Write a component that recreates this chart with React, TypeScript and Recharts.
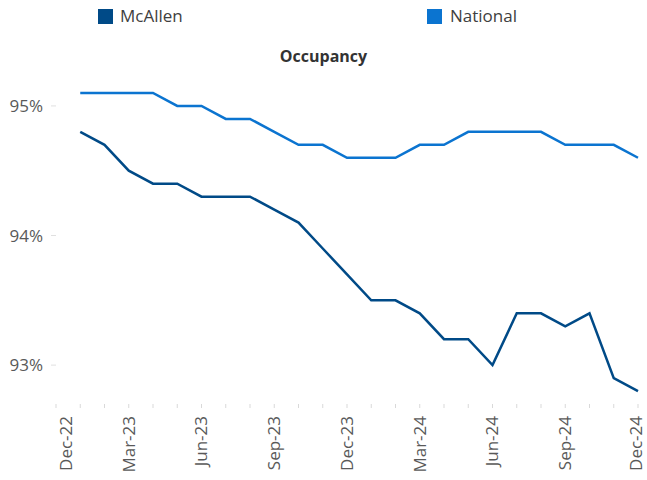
import React from "react";
import { LineChart, Line, XAxis, YAxis } from "recharts";

const tickLabels = ["Dec-22","Jan-23","Feb-23","Mar-23","Apr-23","May-23","Jun-23","Jul-23","Aug-23","Sep-23","Oct-23","Nov-23","Dec-23","Jan-24","Feb-24","Mar-24","Apr-24","May-24","Jun-24","Jul-24","Aug-24","Sep-24","Oct-24","Nov-24","Dec-24"];
const months = [1,2,3,4,5,6,7,8,9,10,11,12,13,14,15,16,17,18,19,20,21,22,23,24];
const mcallen = [94.8,94.7,94.5,94.4,94.4,94.3,94.3,94.3,94.2,94.1,93.9,93.7,93.5,93.5,93.4,93.2,93.2,93.0,93.4,93.4,93.3,93.4,92.9,92.8];
const national = [95.1,95.1,95.1,95.1,95.0,95.0,94.9,94.9,94.8,94.7,94.7,94.6,94.6,94.6,94.7,94.7,94.8,94.8,94.8,94.8,94.7,94.7,94.7,94.6];
const yTicks = [93, 94, 95];
const xTicks = [0,1,2,3,4,5,6,7,8,9,10,11,12,13,14,15,16,17,18,19,20,21,22,23,24];

const COLOR_MC = "#004A87";
const COLOR_NAT = "#0B74D0";
const FONT = "'Open Sans', 'Noto Sans', sans-serif";

const data = months.map((m, i) => ({ m, mcallen: mcallen[i], national: national[i] }));

const XTick = (props: any) => {
  const { x, y, payload } = props;
  const v = payload.value as number;
  if (v % 3 !== 0) return null;
  const dx = v === 0 ? 10 : v === 24 ? -2 : 0;
  return (
    <g transform={`translate(${x + dx},${y})`}>
      <text transform="rotate(-90)" x={-6} y={0} dy="0.35em" textAnchor="end" fill="#595959" fontSize={17} fontFamily={FONT}>
        {tickLabels[v]}
      </text>
    </g>
  );
};

export default function App() {
  return (
    <div style={{ position: "absolute", left: 0, top: 0, width: 647, height: 480, fontFamily: FONT }}>
      <LineChart width={647} height={480} data={data} margin={{ top: 80, right: 9, bottom: 6, left: 0 }}>
        <XAxis
          type="number"
          dataKey="m"
          domain={[0, 24]}
          ticks={xTicks}
          interval={0}
          axisLine={false}
          tickLine={{ stroke: "#d9d9d9" }}
          tickSize={4}
          height={70}
          tick={<XTick />}
        />
        <YAxis
          type="number"
          domain={[92.7, 95.2]}
          ticks={yTicks}
          width={56}
          axisLine={false}
          tickLine={{ stroke: "#e0e0e0" }}
          tickSize={5}
          tickMargin={8}
          tickFormatter={(v: number) => `${v}%`}
          tick={{ fill: "#595959", fontSize: 17, fontFamily: FONT }}
        />
        <Line type="linear" dataKey="national" stroke={COLOR_NAT} strokeWidth={2.5} dot={false} isAnimationActive={false} />
        <Line type="linear" dataKey="mcallen" stroke={COLOR_MC} strokeWidth={2.5} dot={false} isAnimationActive={false} />
      </LineChart>
      <div style={{ position: "absolute", left: 98, top: 9, width: 15, height: 15, background: COLOR_MC }} />
      <div style={{ position: "absolute", left: 120, top: 4, fontSize: 17, color: "#404040", lineHeight: "24px" }}>McAllen</div>
      <div style={{ position: "absolute", left: 427, top: 9, width: 15, height: 15, background: COLOR_NAT }} />
      <div style={{ position: "absolute", left: 450, top: 4, fontSize: 17, color: "#404040", lineHeight: "24px" }}>National</div>
      <div style={{ position: "absolute", left: 0, width: 647, top: 44, textAlign: "center", fontSize: 16, fontWeight: 700, color: "#333333", lineHeight: "24px" }}>Occupancy</div>
    </div>
  );
}
